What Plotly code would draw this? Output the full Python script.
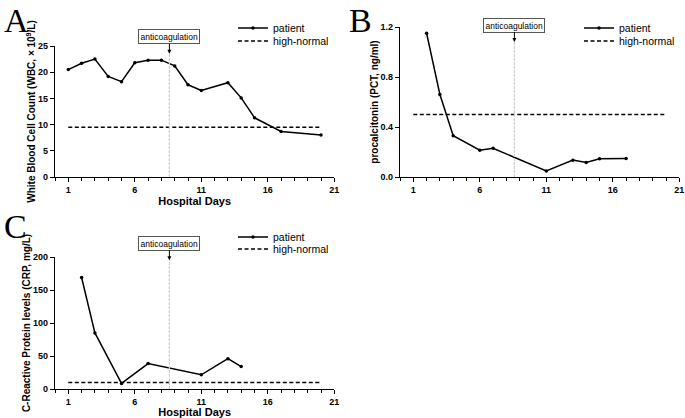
import plotly.graph_objects as go

# ---- data ----
wbc_days = [1, 2, 3, 4, 5, 6, 7, 8, 9, 10, 11, 13, 14, 15, 17, 20]
wbc_vals = [20.5, 21.7, 22.5, 19.2, 18.2, 21.8, 22.3, 22.3, 21.2, 17.6, 16.5, 18.0, 15.1, 11.3, 8.7, 8.0]
wbc_normal = 9.5

pct_days = [2, 3, 4, 6, 7, 11, 13, 14, 15, 17]
pct_vals = [1.15, 0.66, 0.33, 0.215, 0.23, 0.048, 0.135, 0.117, 0.146, 0.148]
pct_normal = 0.5

crp_days = [2, 3, 5, 7, 11, 13, 14]
crp_vals = [169, 85, 8.5, 38.5, 21.5, 46, 34]
crp_normal = 10

normal_days = [1, 20]
anticoag_day = 8.6
x_ticks = [1, 6, 11, 16, 21]

W, H = 685, 418
FONT = "Liberation Sans"

def px_x(p):
    return p / W

def px_y(p):
    return 1 - p / H

fig = go.Figure()

panels = [
    ("x", "y", wbc_days, wbc_vals, wbc_normal, 25, [0, 5, 10, 15, 20, 25],
     "White Blood Cell Count (WBC, × 10<sup>9</sup>/L)", "Hospital Days", (55, 334.3), (46, 177), 23.5, (233, 28, 13)),
    ("x2", "y2", pct_days, pct_vals, pct_normal, 1.2, [0, 0.4, 0.8, 1.2],
     "procalcitonin (PCT, ng/ml)", None, (400, 679.3), (27, 177), 1.08, (579, 28, 13)),
    ("x3", "y3", crp_days, crp_vals, crp_normal, 200, [0, 50, 100, 150, 200],
     "C-Reactive Protein levels (CRP, mg/L)", "Hospital Days", (55, 334.3), (257, 389), 195, (233, 237, 12)),
]

layout = dict(
    width=W, height=H, margin=dict(l=0, r=0, t=0, b=0, autoexpand=False),
    paper_bgcolor="white", plot_bgcolor="white",
    font=dict(family=FONT, color="black"),
    showlegend=True,
)

shapes = []
annotations = []
leg_n = 0

def next_legend():
    global leg_n
    leg_n += 1
    return "legend" if leg_n == 1 else "legend%d" % leg_n

for (xa, ya, days, vals, normal, ymax, yticks, ytitle, xtitle, dx, dy, tip, lpos) in panels:
    leg_a = next_legend()
    leg_b = next_legend()
    fig.add_trace(go.Scatter(
        x=days, y=vals, mode="lines+markers", name="patient",
        line=dict(color="black", width=1.5), marker=dict(size=3.5, color="black"),
        xaxis=xa, yaxis=ya, legend=leg_a, cliponaxis=False))
    fig.add_trace(go.Scatter(
        x=normal_days, y=[normal, normal], mode="lines", name="high-normal",
        line=dict(color="black", width=1.5, dash="4px,2.5px"),
        xaxis=xa, yaxis=ya, legend=leg_b))
    xkey = "xaxis" if xa == "x" else "xaxis" + xa[1:]
    ykey = "yaxis" if ya == "y" else "yaxis" + ya[1:]
    xdict = dict(
        domain=[px_x(dx[0]), px_x(dx[1])], anchor=ya, range=[0, 21], automargin=False,
        tickmode="array", tickvals=x_ticks, ticks="outside", ticklen=4, tickwidth=1.2,
        tickcolor="black", showline=True, linecolor="black", linewidth=1.3,
        showgrid=False, zeroline=False,
        minor=dict(tickmode="linear", tick0=0, dtick=1, ticks="outside", ticklen=3,
                   tickwidth=1, tickcolor="black"),
        tickfont=dict(family=FONT, size=9, color="black", weight="bold"),
    )
    if xtitle:
        xdict["title"] = dict(text=xtitle, font=dict(family=FONT, size=11, weight="bold"), standoff=1)
    layout[xkey] = xdict
    layout[ykey] = dict(
        domain=[px_y(dy[1]), px_y(dy[0])], anchor=xa, range=[0, ymax], automargin=False,
        tickmode="array", tickvals=yticks,
        tickformat=".1f" if ymax == 1.2 else None,
        ticks="outside", ticklen=4, tickwidth=1.2, tickcolor="black",
        showline=True, linecolor="black", linewidth=1.3,
        showgrid=False, zeroline=False,
        tickfont=dict(family=FONT, size=9, color="black", weight="bold"),
        title=dict(text=ytitle, font=dict(family=FONT, size=10, weight="bold"), standoff=0),
    )
    shapes.append(dict(type="line", xref=xa, yref=ya, x0=anticoag_day, x1=anticoag_day,
                       y0=0, y1=tip, line=dict(color="#cfcfcf", width=1.2, dash="3px,1px")))
    annotations.append(dict(
        xref=xa, yref=ya, x=anticoag_day, y=tip, ax=0, ay=-17,
        text="anticoagulation", showarrow=True, arrowhead=2, arrowsize=0.8, arrowwidth=1,
        arrowcolor="black", bordercolor="#555555", borderwidth=1, borderpad=1.5,
        bgcolor="white", font=dict(family=FONT, size=8.5, color="black")))
    lx, ly, gap = lpos
    for k, leg in enumerate([leg_a, leg_b]):
        layout[leg] = dict(
            x=px_x(lx), y=px_y(ly + gap * k), xanchor="left", yanchor="middle",
            xref="paper", yref="paper",
            bgcolor="rgba(0,0,0,0)", font=dict(family=FONT, size=10.5, color="black"),
            itemwidth=30)

for letter, lx, ly in [("A", 2, 0), ("B", 347, 0), ("C", 2, 206)]:
    annotations.append(dict(xref="paper", yref="paper", x=px_x(lx), y=px_y(ly),
                            xanchor="left", yanchor="top", text=letter, showarrow=False,
                            font=dict(family="Liberation Serif", size=34, color="black")))

layout["shapes"] = shapes
layout["annotations"] = annotations
fig.update_layout(**layout)
fig.write_html("out.html", config={"displayModeBar": False},
               post_script="document.body.style.margin='0';")
